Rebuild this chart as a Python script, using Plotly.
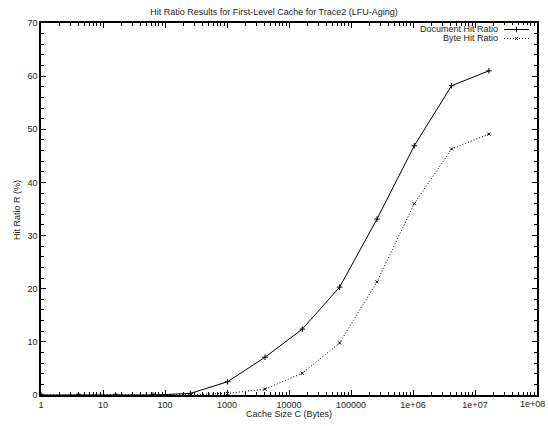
import plotly.graph_objects as go

# Cache sizes (bytes), powers of four
cache_size = [1, 4, 16, 64, 256, 1024, 4096, 16384, 65536, 262144,
              1048576, 4194304, 16777216]
# Hit ratios in percent
doc_hit = [0.0, 0.0, 0.0, 0.0, 0.3, 2.5, 7.1, 12.4, 20.3, 33.1, 46.9, 58.2, 61.0]
byte_hit = [0.0, 0.0, 0.0, 0.0, 0.05, 0.3, 1.1, 4.1, 9.8, 21.3, 36.0, 46.3, 49.1]

x_tickvals = [1, 10, 100, 1000, 10000, 100000, 1e6, 1e7, 1e8]
x_ticktext = ["1", "10", "100", "1000", "10000", "100000", "1e+06", "1e+07", "1e+08"]
y_tickvals = [0, 10, 20, 30, 40, 50, 60, 70]

FONT = "Liberation Sans, Arial, Helvetica, sans-serif"
TXT = "#222222"
DOTTED = "1px,2px"

fig = go.Figure()

fig.add_trace(go.Scatter(
    x=cache_size, y=doc_hit, mode="lines+markers", name="Document Hit Ratio",
    line=dict(color="black", width=1),
    marker=dict(symbol="cross-thin", size=4, line=dict(color="black", width=1)),
    showlegend=False,
))
fig.add_trace(go.Scatter(
    x=cache_size, y=byte_hit, mode="lines+markers", name="Byte Hit Ratio",
    line=dict(color="black", width=1, dash=DOTTED),
    marker=dict(symbol="x-thin", size=3, line=dict(color="black", width=1)),
    showlegend=False,
))

# Key samples drawn on overlay axes in unit coordinates
key_x = [0.0, 0.5, 1.0]
key_y = [0.5, 0.5, 0.5]
fig.add_trace(go.Scatter(
    x=key_x, y=key_y, mode="lines", xaxis="x2", yaxis="y2",
    line=dict(color="black", width=1), showlegend=False, hoverinfo="skip",
))
fig.add_trace(go.Scatter(
    x=key_x[1:2], y=key_y[1:2], mode="markers", xaxis="x2", yaxis="y2",
    marker=dict(symbol="cross-thin", size=4, line=dict(color="black", width=1)),
    showlegend=False, hoverinfo="skip",
))
fig.add_trace(go.Scatter(
    x=key_x, y=key_y, mode="lines", xaxis="x3", yaxis="y3",
    line=dict(color="black", width=1, dash=DOTTED), showlegend=False, hoverinfo="skip",
))
fig.add_trace(go.Scatter(
    x=key_x[1:2], y=key_y[1:2], mode="markers", xaxis="x3", yaxis="y3",
    marker=dict(symbol="x-thin", size=3, line=dict(color="black", width=1)),
    showlegend=False, hoverinfo="skip",
))

W, H = 548, 426
L, R, T, B = 41, 11, 23, 31
pw, ph = W - L - R, H - T - B


def px(xp):
    return (xp - L) / pw


def py(yp):
    return (H - B - yp) / ph


axis_common = dict(
    showgrid=False, zeroline=False, showline=True, linecolor="black",
    mirror="allticks", ticks="inside", ticklen=5, tickcolor="black", tickwidth=1,
    tickfont=dict(family=FONT, size=9, color=TXT), ticklabeloverflow="allow",
    automargin=False,
)

# The last decade label sits at the page edge, so it is placed flush right
# rather than centred under its tick.
edge_label = x_ticktext[-1]
axis_text = x_ticktext[:-1] + [""]

fig.update_layout(
    width=W, height=H,
    margin=dict(l=L, r=R, t=T, b=B, autoexpand=False),
    paper_bgcolor="white", plot_bgcolor="white",
    font=dict(family=FONT, size=9, color=TXT),
    xaxis=dict(
        type="log", range=[0, 8], tickvals=x_tickvals, ticktext=axis_text,
        linewidth=2,
        minor=dict(ticks="inside", ticklen=3, tickcolor="black", dtick="D1"),
        **axis_common,
    ),
    yaxis=dict(
        range=[0, 70], tickvals=y_tickvals, linewidth=1.5,
        minor=dict(ticks="inside", ticklen=3, tickcolor="black", dtick=2),
        **axis_common,
    ),
    xaxis2=dict(domain=[px(504), px(529)], range=[0, 1], visible=False, anchor="y2"),
    yaxis2=dict(domain=[py(34), py(25)], range=[0, 1], visible=False, anchor="x2"),
    xaxis3=dict(domain=[px(504), px(529)], range=[0, 1], visible=False, anchor="y3"),
    yaxis3=dict(domain=[py(43), py(34)], range=[0, 1], visible=False, anchor="x3"),
    showlegend=False,
    title=dict(
        text="Hit Ratio Results for First-Level Cache for Trace2 (LFU-Aging)",
        x=0.5, xanchor="center", y=1 - 12 / H, yanchor="middle",
        font=dict(family=FONT, size=9, color=TXT),
    ),
    annotations=[
        dict(text=edge_label, xref="paper", yref="paper",
             x=px(547), y=py(404), xanchor="right", yanchor="middle",
             showarrow=False, font=dict(family=FONT, size=9, color=TXT)),
        dict(text="Cache Size C (Bytes)", xref="paper", yref="paper",
             x=px(289), y=py(414), xanchor="center", yanchor="middle",
             showarrow=False, font=dict(family=FONT, size=9, color=TXT)),
        dict(text="Hit Ratio R (%)", xref="paper", yref="paper",
             x=px(17), y=py(210), xanchor="center", yanchor="middle", textangle=-90,
             showarrow=False, font=dict(family=FONT, size=9, color=TXT)),
        dict(text="Document Hit Ratio", xref="paper", yref="paper",
             x=px(500), y=py(29.5), xanchor="right", yanchor="middle",
             showarrow=False, font=dict(family=FONT, size=9, color=TXT)),
        dict(text="Byte Hit Ratio", xref="paper", yref="paper",
             x=px(500), y=py(38), xanchor="right", yanchor="middle",
             showarrow=False, font=dict(family=FONT, size=9, color=TXT)),
    ],
)

fig.write_html("out.html")
